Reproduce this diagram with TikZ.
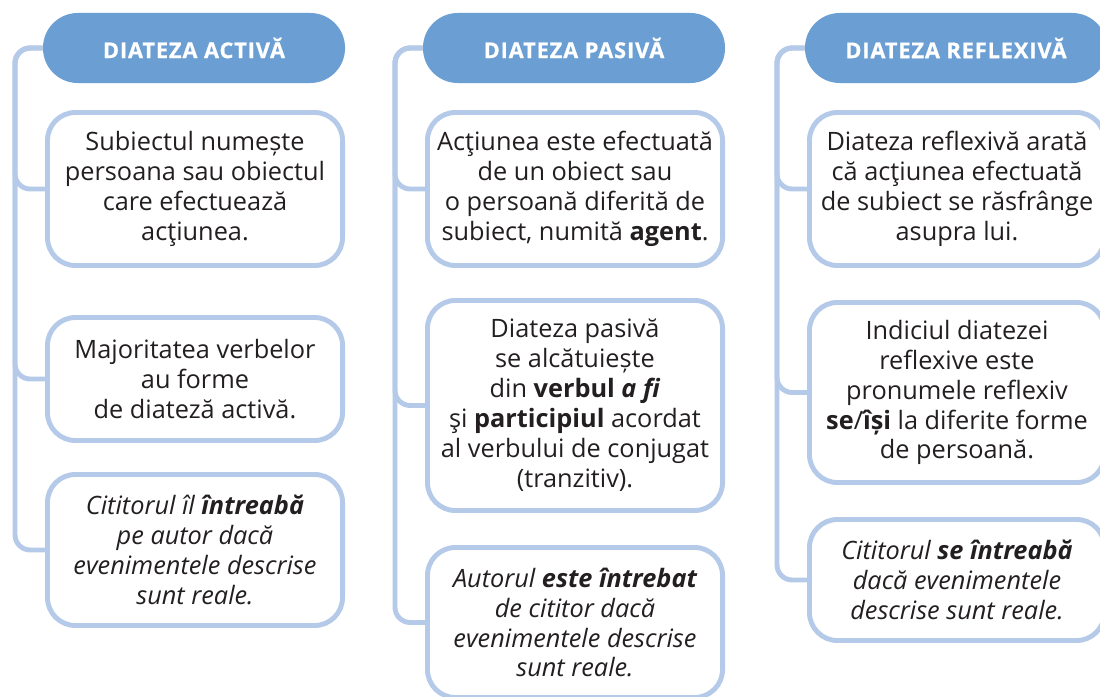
\documentclass[tikz,border=0pt]{standalone}
\usepackage{fontspec}
\setmainfont{Open Sans}
\newfontfamily\pillfont[LetterSpace=4, FakeBold=0.8]{Open Sans Bold}
\usetikzlibrary{positioning}
\definecolor{pillblue}{HTML}{6B9FD3}
\definecolor{lineblue}{HTML}{B5CAE8}
\definecolor{inkdark}{HTML}{231F20}

\tikzset{
  headpill/.style={fill=pillblue, rounded corners=0.87cm, minimum width=7.55cm,
    minimum height=1.75cm, inner sep=0pt, text=white,
    font=\fontsize{15.5}{17}\selectfont\pillfont},
  notebox/.style={draw=lineblue, line width=3.5pt, fill=white, rounded corners=0.7cm,
    minimum width=7.375cm, inner sep=0pt, align=center, text=inkdark,
    font=\fontsize{18}{21.3}\selectfont},
  link/.style={draw=lineblue, line width=3.5pt, rounded corners=0.38cm},
}

\begin{document}
\begin{tikzpicture}[x=0.025cm, y=-0.025cm]

% Canvas (pixel grid, y down)
\fill[white] (0,0) rectangle (1100,697);
\useasboundingbox (0,0) rectangle (1100,697);
\clip (0,0) rectangle (1100,697);

% Spines
\coordinate (sA) at (15,0);
\coordinate (sP) at (395,0);
\coordinate (sR) at (777,0);

% Column 1: active voice
\node[headpill] (hA) at (194,48) {DIATEZA ACTIVĂ};
\node[notebox, minimum height=3.825cm] (bA1) at (195,189)
  {Subiectul numește\\persoana sau obiectul\\care efectuează\\acţiunea.};
\node[notebox, minimum height=3.075cm] (bA2) at (195,379)
  {Majoritatea verbelor\\au forme\\de diateză activă.};
\node[notebox, minimum height=3.775cm] (bA3) at (195,550)
  {\itshape Cititorul îl \textbf{întreabă}\\\itshape pe autor dacă\\\itshape evenimentele descrise\\\itshape sunt reale.};

% Column 2: passive voice
\node[headpill] (hP) at (574,48) {DIATEZA PASIVĂ};
\node[notebox, minimum height=3.825cm] (bP1) at (575,189)
  {Acţiunea este efectuată\\de un obiect sau\\o persoană diferită de\\subiect, numită \textbf{agent}.};
\node[notebox, minimum height=5.25cm] (bP2) at (575,405.5)
  {Diateza pasivă\\se alcătuiește\\din \textbf{verbul \textit{a fi}}\\şi \textbf{participiul} acordat\\al verbului de conjugat\\(tranzitiv).};
\node[notebox, minimum height=3.75cm] (bP3) at (575,622.5)
  {\itshape Autorul \textbf{este întrebat}\\\itshape de cititor dacă\\\itshape evenimentele descrise\\\itshape sunt reale.};

% Column 3: reflexive voice
\node[headpill] (hR) at (956,48) {DIATEZA REFLEXIVĂ};
\node[notebox, minimum height=3.825cm] (bR1) at (957,189)
  {Diateza reflexivă arată\\că acţiunea efectuată\\de subiect se răsfrânge\\asupra lui.};
\node[notebox, minimum height=4.5cm] (bR2) at (957,392.5)
  {Indiciul diatezei\\reflexive este\\pronumele reflexiv\\\textbf{se}/\textbf{își} la diferite forme\\de persoană.};
\node[notebox, minimum height=3.025cm] (bR3) at (957,580)
  {\itshape Cititorul \textbf{se întreabă}\\\itshape dacă evenimentele\\\itshape descrise sunt reale.};

% Connectors
\foreach \c in {A,P,R}
  \foreach \i in {1,2,3}
    \draw[link] (h\c.west) -- (h\c.west -| s\c) |- (b\c\i.west);

\end{tikzpicture}
\end{document}
